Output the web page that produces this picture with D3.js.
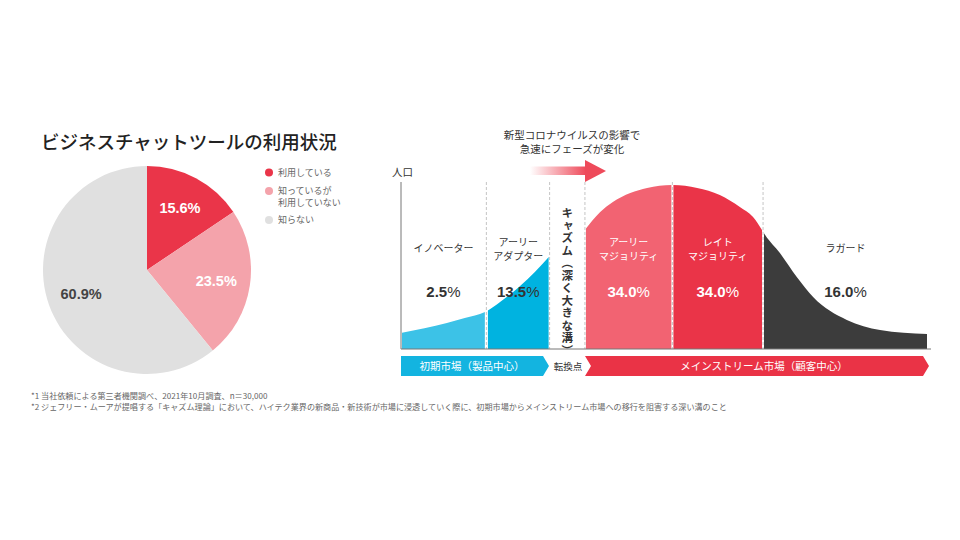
<!DOCTYPE html>
<html>
<head>
<meta charset="utf-8">
<script src="https://cdn.jsdelivr.net/npm/d3@7"></script>
<style>
  body { margin: 0; background: #fff; }
  svg { display: block; }
  text { font-family: "Noto Sans CJK JP", "Noto Sans", sans-serif; }
  .num { font-family: "Liberation Sans", Arial, sans-serif; font-weight: bold; }
</style>
</head>
<body>
<div id="viz-container"></div>
<script>
// pie data
let pieLabels = ["利用している", "知っているが\n利用していない", "知らない"];
let pieValues = [15.6, 23.5, 60.9];
let pieColors = ["#ea3549", "#f4a3ab", "#e0e0e0"];
let pieTextColors = ["#fff", "#fff", "#444"];

// chasm chart data (x = position across the axis in %, y = population relative to the peak)
let segNames = ["イノベーター", "アーリー\nアダプター", "アーリー\nマジョリティ", "レイト\nマジョリティ", "ラガード"];
let segShares = [2.5, 13.5, 34.0, 34.0, 16.0];
let segStart = [0, 16.3, 34.9, 51.5, 68.7];
let segEnd = [16.1, 28.2, 51.5, 68.7, 100];
let segCurve = ["left", "left", "right", "right", "right"];
let segColors = ["#3cc2e7", "#00b3e0", "#f26372", "#ea3448", "#3c3c3c"];
let segTextColors = ["#333", "#333", "#fff", "#fff", "#333"];
let boundaries = [16.2, 28.2, 34.9, 51.5, 68.7];

let leftX = [0, 8.7, 12.1, 16.3, 18.8, 22.6, 25.4, 28.2];
let leftY = [9.8, 15.9, 18.9, 23.2, 28.7, 38.4, 47, 56.7];
let rightX = [34.9, 37.8, 40.2, 43.5, 46.7, 51.4, 56.2, 60.5, 64.3, 66.8, 68.5, 69.1, 71.9, 75.1, 78.2, 84.6, 90.9, 100];
let rightY = [72.6, 83.5, 89.6, 95.1, 98.2, 100, 98.2, 93.9, 86.6, 80.5, 72.6, 69.5, 58.5, 43.9, 31.7, 17.7, 11.6, 9.1];

let footnotes = [
  "*1 当社依頼による第三者機関調べ、2021年10月調査、n＝30,000",
  "*2 ジェフリー・ムーアが提唱する「キャズム理論」において、ハイテク業界の新商品・新技術が市場に浸透していく際に、初期市場からメインストリーム市場への移行を阻害する深い溝のこと"
];

let viz = d3.select("#viz-container")
  .append("svg")
    .attr("width", 960)
    .attr("height", 540);

// ---------- pie ----------
viz.append("text")
  .text("ビジネスチャットツールの利用状況")
  .attr("x", 41)
  .attr("y", 149)
  .attr("font-size", 18.5)
  .attr("font-weight", 500)
  .attr("fill", "#222");

let pieData = pieValues.map((v, i) => ({value: v, i: i}));
let pie = d3.pie().value(d => d.value).sort(null);
let arc = d3.arc().innerRadius(0).outerRadius(104);
let labelArc = d3.arc().innerRadius(70).outerRadius(70);

let pieGroup = viz.append("g").attr("transform", "translate(147,270)");
let slices = pieGroup.selectAll(".slice").data(pie(pieData))
  .enter()
    .append("g")
    .attr("class", "slice");

slices.append("path")
  .attr("d", arc)
  .attr("fill", d => pieColors[d.data.i]);

slices.append("text")
  .attr("class", "num")
  .text(d => d.data.value.toFixed(1) + "%")
  .attr("transform", d => "translate(" + labelArc.centroid(d) + ")")
  .attr("text-anchor", "middle")
  .attr("dy", "0.36em")
  .attr("font-size", 14.5)
  .attr("fill", d => pieTextColors[d.data.i]);

// legend
let legendY = [172.5, 191, 220];
let legend = viz.selectAll(".legend").data(pieLabels)
  .enter()
    .append("g")
    .attr("class", "legend")
    .attr("transform", (d, i) => "translate(269," + legendY[i] + ")");

legend.append("circle")
  .attr("r", 4)
  .attr("fill", (d, i) => pieColors[i]);

legend.each(function (d) {
  d3.select(this).selectAll("text").data(d.split("\n"))
    .enter()
      .append("text")
      .attr("x", 9)
      .attr("y", (t, j) => 3.2 + j * 11.5)
      .attr("font-size", 9)
      .attr("fill", "#666")
      .text(t => t);
});

// ---------- chasm chart ----------
let x = d3.scaleLinear().domain([0, 100]).range([401, 928]);
let y = d3.scaleLinear().domain([0, 100]).range([349, 185]);

let curves = {
  left: leftX.map((v, i) => [v, leftY[i]]),
  right: rightX.map((v, i) => [v, rightY[i]])
};

let area = d3.area()
  .x(d => x(d[0]))
  .y0(y(0))
  .y1(d => y(d[1]))
  .curve(d3.curveMonotoneX);

let defs = viz.append("defs");
segNames.forEach((n, i) => {
  defs.append("clipPath")
    .attr("id", "seg-" + i)
    .append("rect")
      .attr("x", x(segStart[i]) + 1)
      .attr("y", 150)
      .attr("width", x(segEnd[i]) - x(segStart[i]) - 2)
      .attr("height", 220);
});

let segGroups = viz.selectAll(".seg").data(segNames)
  .enter()
    .append("g")
    .attr("class", "seg");

segGroups.append("path")
  .attr("d", (d, i) => area(curves[segCurve[i]]))
  .attr("clip-path", (d, i) => "url(#seg-" + i + ")")
  .attr("fill", (d, i) => segColors[i]);

// dashed guides
viz.selectAll(".guide").data(boundaries)
  .enter()
    .append("line")
    .attr("class", "guide")
    .attr("x1", d => x(d))
    .attr("x2", d => x(d))
    .attr("y1", 182)
    .attr("y2", y(0))
    .attr("stroke", "#b5b5b5")
    .attr("stroke-width", 0.8)
    .attr("stroke-dasharray", "3,2");

// axes
viz.append("line")
  .attr("x1", x(0)).attr("x2", x(0))
  .attr("y1", 182).attr("y2", y(0))
  .attr("stroke", "#777");
viz.append("line")
  .attr("x1", x(0)).attr("x2", 931)
  .attr("y1", y(0)).attr("y2", y(0))
  .attr("stroke", "#777");
viz.append("text")
  .text("人口")
  .attr("x", 392)
  .attr("y", 176)
  .attr("font-size", 10.5)
  .attr("fill", "#333");

// segment names and shares
segGroups.each(function (d, i) {
  let lines = d.split("\n");
  let cx = x((segStart[i] + segEnd[i]) / 2);
  d3.select(this).selectAll(".name").data(lines)
    .enter()
      .append("text")
      .attr("class", "name")
      .attr("x", cx)
      .attr("y", (t, j) => (lines.length == 1 ? 252 : 245.5) + j * 14.5)
      .attr("text-anchor", "middle")
      .attr("font-size", 10)
      .attr("fill", segTextColors[i])
      .text(t => t);
});

let shareText = segGroups.append("text")
  .attr("class", "num")
  .attr("x", (d, i) => x((segStart[i] + segEnd[i]) / 2))
  .attr("y", 297)
  .attr("text-anchor", "middle")
  .attr("font-size", 15)
  .attr("fill", (d, i) => segTextColors[i]);
shareText.append("tspan").text((d, i) => segShares[i].toFixed(1));
shareText.append("tspan").attr("font-weight", "normal").text("%");

// chasm label (vertical)
viz.append("text")
  .text("キャズム（深く大きな溝）")
  .attr("x", x((segEnd[1] + segStart[2]) / 2))
  .attr("y", 207)
  .attr("font-size", 11.5)
  .attr("font-weight", "bold")
  .attr("fill", "#333")
  .style("writing-mode", "vertical-rl")
  .style("letter-spacing", "1px");

// covid annotation + arrow
let note = viz.append("text")
  .attr("font-size", 10.5)
  .attr("fill", "#333")
  .attr("text-anchor", "middle");
["新型コロナウイルスの影響で", "急速にフェーズが変化"].forEach((t, i) => {
  note.append("tspan").attr("x", 572).attr("y", 139 + i * 13.5).text(t);
});

let grad = defs.append("linearGradient")
  .attr("id", "arrowGrad")
  .attr("x1", "0%").attr("x2", "100%");
grad.append("stop").attr("offset", "0%").attr("stop-color", "#ee4a5a").attr("stop-opacity", 0);
grad.append("stop").attr("offset", "100%").attr("stop-color", "#ee4a5a").attr("stop-opacity", 1);

viz.append("rect")
  .attr("x", 530).attr("y", 166.5)
  .attr("width", 56).attr("height", 8.5)
  .attr("fill", "url(#arrowGrad)");
viz.append("path")
  .attr("d", "M585,160 L606,171 L585,182 Z")
  .attr("fill", "#ee4a5a");

// market bars
viz.append("path")
  .attr("d", "M401,356 L543,356 L549,366 L543,376 L401,376 Z")
  .attr("fill", "#13b4e0");
viz.append("text")
  .text("初期市場（製品中心）")
  .attr("x", 472).attr("y", 370)
  .attr("text-anchor", "middle")
  .attr("font-size", 10.5)
  .attr("fill", "#fff");

viz.append("text")
  .text("転換点")
  .attr("x", 568).attr("y", 369.5)
  .attr("text-anchor", "middle")
  .attr("font-size", 9.5)
  .attr("fill", "#333");

viz.append("path")
  .attr("d", "M585,356 L923,356 L929,366 L923,376 L585,376 L591,366 Z")
  .attr("fill", "#ea3346");
viz.append("text")
  .text("メインストリーム市場（顧客中心）")
  .attr("x", 764).attr("y", 370)
  .attr("text-anchor", "middle")
  .attr("font-size", 10.5)
  .attr("fill", "#fff");

// footnotes
viz.selectAll(".foot").data(footnotes)
  .enter()
    .append("text")
    .attr("class", "foot")
    .text(d => d)
    .attr("x", 31)
    .attr("y", (d, i) => 399 + i * 10.5)
    .attr("font-size", 8.1)
    .attr("fill", "#666");
</script>
</body>
</html>
